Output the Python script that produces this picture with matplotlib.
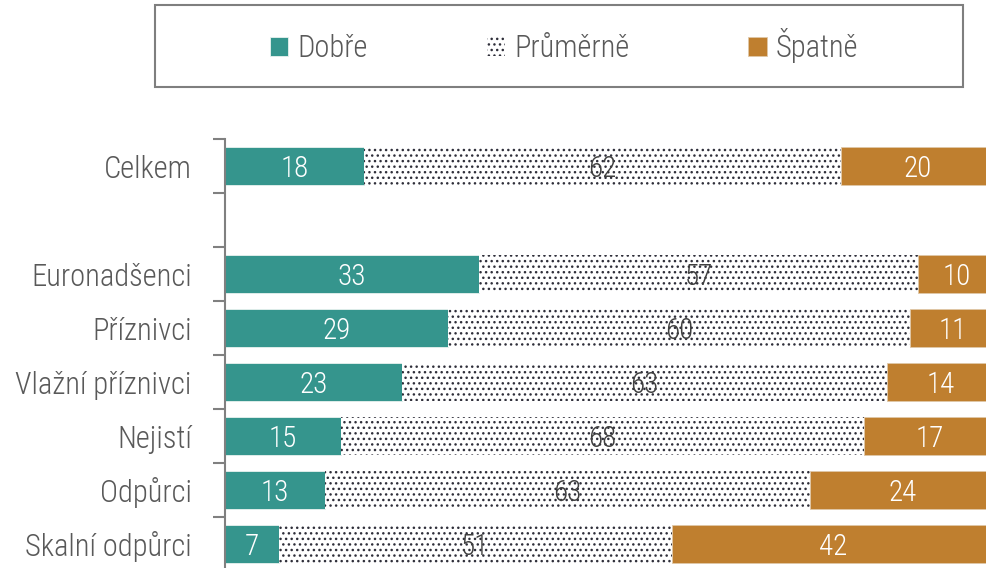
import numpy as np
import matplotlib.pyplot as plt
from matplotlib.patches import Rectangle

plt.rcParams['font.family'] = ['Roboto Condensed', 'Liberation Sans Narrow', 'Roboto', 'DejaVu Sans']
plt.rcParams['hatch.linewidth'] = 1.0

categories = ['Celkem', '', 'Euronadšenci', 'Příznivci', 'Vlažní příznivci',
              'Nejistí', 'Odpůrci', 'Skalní odpůrci']
dobre = [18, np.nan, 33, 29, 23, 15, 13, 7]
prumerne = [62, np.nan, 57, 60, 63, 68, 63, 51]
spatne = [20, np.nan, 10, 11, 14, 17, 24, 42]
series_names = ['Dobře', 'Průměrně', 'Špatně']

teal = '#35958d'
orange = '#bf7f2f'
grey = '#595959'

fig = plt.figure(figsize=(9.87, 5.68), dpi=100)
ax = fig.add_axes([225 / 987, -3 / 568, 770 / 987, 432 / 568])

y = np.arange(len(categories))
d = np.array(dobre)
p = np.array(prumerne)
s = np.array(spatne)
h = 0.7

b1 = ax.barh(y, d, height=h, color=teal, edgecolor='#e8f2f0', linewidth=0.6, label=series_names[0])
b2 = ax.barh(y, p, left=d, height=h, color='white', edgecolor='#2f2f3a', linewidth=0,
             hatch='...', label=series_names[1])
b3 = ax.barh(y, s, left=d + p, height=h, color=orange, edgecolor='#e0c8a8', linewidth=0.6,
             label=series_names[2])

for i in range(len(categories)):
    if np.isnan(d[i]):
        continue
    ax.text(d[i] / 2, y[i], f'{d[i]:.0f}', ha='center', va='center_baseline', color='white',
            fontsize=21, fontweight='light')
    ax.text(d[i] + p[i] / 2, y[i], f'{p[i]:.0f}', ha='center', va='center_baseline',
            color='#404040', fontsize=21, fontweight='light')
    ax.text(d[i] + p[i] + s[i] / 2, y[i], f'{s[i]:.0f}', ha='center', va='center_baseline',
            color='white', fontsize=21, fontweight='light')

ax.set_xlim(0, 100)
ax.set_ylim(len(categories) - 0.5, -0.5)
ax.set_xticks([])
ax.set_yticks(y)
ax.set_yticklabels(categories, fontsize=22, color=grey, fontweight='light')
ax.tick_params(axis='y', which='major', length=0, pad=24)
for lab in ax.get_yticklabels():
    lab.set_verticalalignment('center_baseline')
ax.set_yticks(np.arange(-0.5, len(categories), 1), minor=True)
ax.tick_params(axis='y', which='minor', length=9, width=1.5, color='#808080')
for sp in ['top', 'right', 'bottom']:
    ax.spines[sp].set_visible(False)
ax.spines['left'].set_color('#808080')
ax.spines['left'].set_linewidth(1.5)

fig.patches.append(Rectangle((155 / 987, 1 - 87 / 568), 808 / 987, 82 / 568,
                             transform=fig.transFigure, fill=False,
                             edgecolor='#7f7f7f', linewidth=1.5))
leg = fig.legend(handles=[b1, b2, b3], loc='center',
                 bbox_to_anchor=(564 / 987, 1 - 46 / 568), ncol=3, frameon=False,
                 fontsize=22, handlelength=0.6, handleheight=0.6,
                 handletextpad=0.3, columnspacing=3.9, labelcolor=grey)
for t in leg.get_texts():
    t.set_fontweight('light')

fig.savefig('out.png', dpi=100)
